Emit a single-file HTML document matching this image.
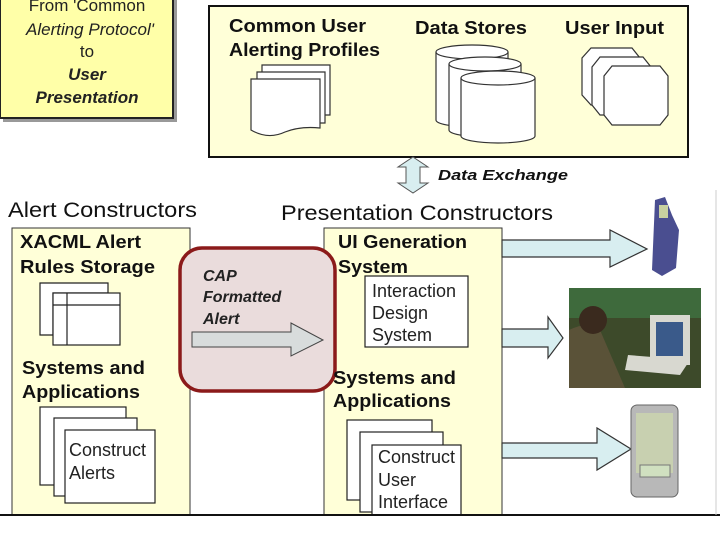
<!DOCTYPE html>
<html><head><style>
html,body{margin:0;padding:0;background:#fff;}
svg{display:block;font-family:"Liberation Sans",sans-serif;}
.b{font-weight:bold;}
</style></head><body>
<svg width="720" height="540" viewBox="0 0 720 540" xmlns="http://www.w3.org/2000/svg">
<rect width="720" height="540" fill="#fff"/>
<rect x="3" y="-4" width="174" height="126" fill="#999"/>
<rect x="0" y="-6" width="173" height="124" fill="#ffffa8" stroke="#222" stroke-width="2"/>
<g font-size="17" fill="#222" text-anchor="middle" font-style="italic">
<text x="87" y="11" font-style="normal">From 'Common</text>
<text x="90" y="35">Alerting Protocol'</text>
<text x="87" y="57" font-style="normal">to</text>
<text x="87" y="80" class="b">User</text>
<text x="87" y="103" class="b">Presentation</text>
</g>
<rect x="209" y="6" width="479" height="151" fill="#ffffd8" stroke="#111" stroke-width="2"/>
<g font-size="18" class="b" fill="#111">
<text x="229" y="32" textLength="137" lengthAdjust="spacingAndGlyphs">Common User</text>
<text x="229" y="56" textLength="151" lengthAdjust="spacingAndGlyphs">Alerting Profiles</text>
<text x="415" y="34" textLength="112" lengthAdjust="spacingAndGlyphs">Data Stores</text>
<text x="565" y="34" textLength="99" lengthAdjust="spacingAndGlyphs">User Input</text>
</g>
<g stroke="#333" stroke-width="1.2" fill="#fff">
<path d="M262,65 H330 V115 H262Z"/>
<path d="M257,72 H325 V123 H257Z"/>
<path d="M251,79 H320 V128 Q300,126 285,132 Q268,140 251,130Z"/>
</g>
<g stroke="#333" stroke-width="1.2" fill="#fff">
<path d="M436,52 V120 A36,7 0 0 0 508,120 V52"/><ellipse cx="472" cy="52" rx="36" ry="7"/>
<path d="M449,64 V130 A36,7 0 0 0 521,130 V64"/><ellipse cx="485" cy="64" rx="36" ry="7"/>
<path d="M461,78 V136 A37,7 0 0 0 535,136 V78"/><ellipse cx="498" cy="78" rx="37" ry="7"/>
</g>
<g stroke="#333" stroke-width="1.2" fill="#fff">
<path d="M591,48 H632 L640,58 V95 L632,105 H591 L582,95 V58Z"/>
<path d="M600,57 H643 L651,67 V105 L643,115 H600 L592,105 V67Z"/>
<path d="M612,66 H660 L668,76 V115 L660,125 H612 L604,115 V76Z"/>
</g>
<path d="M413,157 L428,167 H420 V183 H428 L413,193 L398,183 H406 V167 H398Z" fill="#d8eef0" stroke="#555"/>
<text x="438" y="180" font-size="15" class="b" font-style="italic" fill="#111" textLength="130" lengthAdjust="spacingAndGlyphs">Data Exchange</text>
<text x="8" y="217" font-size="21" fill="#111" textLength="189" lengthAdjust="spacingAndGlyphs">Alert Constructors</text>
<text x="281" y="220" font-size="21" fill="#111" textLength="272" lengthAdjust="spacingAndGlyphs">Presentation Constructors</text>
<rect x="12" y="228" width="178" height="287" fill="#ffffd8" stroke="#333"/>
<rect x="324" y="228" width="178" height="287" fill="#ffffd8" stroke="#333"/>
<rect x="180" y="248" width="155" height="143" rx="22" fill="#eadcdc" stroke="#8b1a1a" stroke-width="3.5"/>
<g font-size="16" class="b" font-style="italic" fill="#222">
<text x="203" y="281">CAP</text><text x="203" y="302">Formatted</text><text x="203" y="324">Alert</text>
</g>
<path d="M192,332 H291 V323 L323,340 L291,356 V347 H192Z" fill="#d8dcdc" stroke="#444"/>
<g font-size="18" class="b" fill="#111">
<text x="20" y="248" textLength="121" lengthAdjust="spacingAndGlyphs">XACML Alert</text>
<text x="20" y="273" textLength="135" lengthAdjust="spacingAndGlyphs">Rules Storage</text>
<text x="22" y="374" textLength="123" lengthAdjust="spacingAndGlyphs">Systems and</text>
<text x="22" y="398" textLength="118" lengthAdjust="spacingAndGlyphs">Applications</text>
<text x="338" y="248" textLength="129" lengthAdjust="spacingAndGlyphs">UI Generation</text>
<text x="338" y="273" textLength="70" lengthAdjust="spacingAndGlyphs">System</text>
<text x="333" y="384" textLength="123" lengthAdjust="spacingAndGlyphs">Systems and</text>
<text x="333" y="407" textLength="118" lengthAdjust="spacingAndGlyphs">Applications</text>
</g>
<g stroke="#222" stroke-width="1.2" fill="#fff">
<path d="M40,283 H108 V293 H53 V335 H40Z"/>
<rect x="53" y="293" width="67" height="52"/>
<line x1="53" y1="305" x2="120" y2="305"/><line x1="67" y1="293" x2="67" y2="345"/>
</g>
<g stroke="#222" stroke-width="1.2" fill="#fff">
<rect x="40" y="407" width="86" height="78"/>
<rect x="54" y="418" width="83" height="78"/>
<rect x="65" y="430" width="90" height="73"/>
</g>
<g font-size="18" fill="#222"><text x="69" y="456">Construct</text><text x="69" y="479">Alerts</text></g>
<rect x="365" y="276" width="103" height="71" fill="#fff" stroke="#222" stroke-width="1.2"/>
<g font-size="18" fill="#222"><text x="372" y="297">Interaction</text><text x="372" y="319">Design</text><text x="372" y="341">System</text></g>
<g stroke="#222" stroke-width="1.2" fill="#fff">
<rect x="347" y="420" width="85" height="80"/>
<rect x="360" y="432" width="83" height="80"/>
<rect x="372" y="445" width="89" height="70"/>
</g>
<g font-size="18" fill="#222"><text x="378" y="463">Construct</text><text x="378" y="486">User</text><text x="378" y="508">Interface</text></g>
<g fill="#d8eef0" stroke="#333" stroke-width="1.2">
<path d="M502,240 H610 V230 L647,249 L610,267 V257 H502Z"/>
<path d="M502,329 H548 V317 L563,338 L548,358 V347 H502Z"/>
<path d="M502,443 H597 V428 L631,449 L597,470 V458 H502Z"/>
</g>
<g>
<path d="M655,200 L665,197 L672,215 L679,230 L676,268 L662,276 L652,270 Z" fill="#4a4e90"/>
<rect x="659" y="205" width="9" height="13" fill="#c8d0a0"/>
<rect x="569" y="288" width="132" height="100" fill="#3d4a2a"/>
<rect x="569" y="288" width="132" height="30" fill="#3e6a3c"/>
<path d="M569,330 Q590,320 600,330 L625,388 H569Z" fill="#5a5238"/>
<circle cx="593" cy="320" r="14" fill="#3a2a1e"/>
<rect x="650" y="315" width="40" height="50" fill="#d8d8d0"/>
<rect x="656" y="322" width="27" height="34" fill="#3a5a8a"/>
<path d="M628,355 L690,360 L680,375 L625,370Z" fill="#d8d8d0"/>
<rect x="631" y="405" width="47" height="92" rx="6" fill="#b8b8b8" stroke="#666"/>
<rect x="636" y="413" width="37" height="60" fill="#c8d0b0"/>
<rect x="640" y="465" width="30" height="12" fill="#d0e0c0" stroke="#777"/>
</g>
<line x1="0" y1="515" x2="720" y2="515" stroke="#111" stroke-width="2"/>
<line x1="716" y1="190" x2="716" y2="515" stroke="#ccc" stroke-width="1"/>
</svg>
</body></html>
